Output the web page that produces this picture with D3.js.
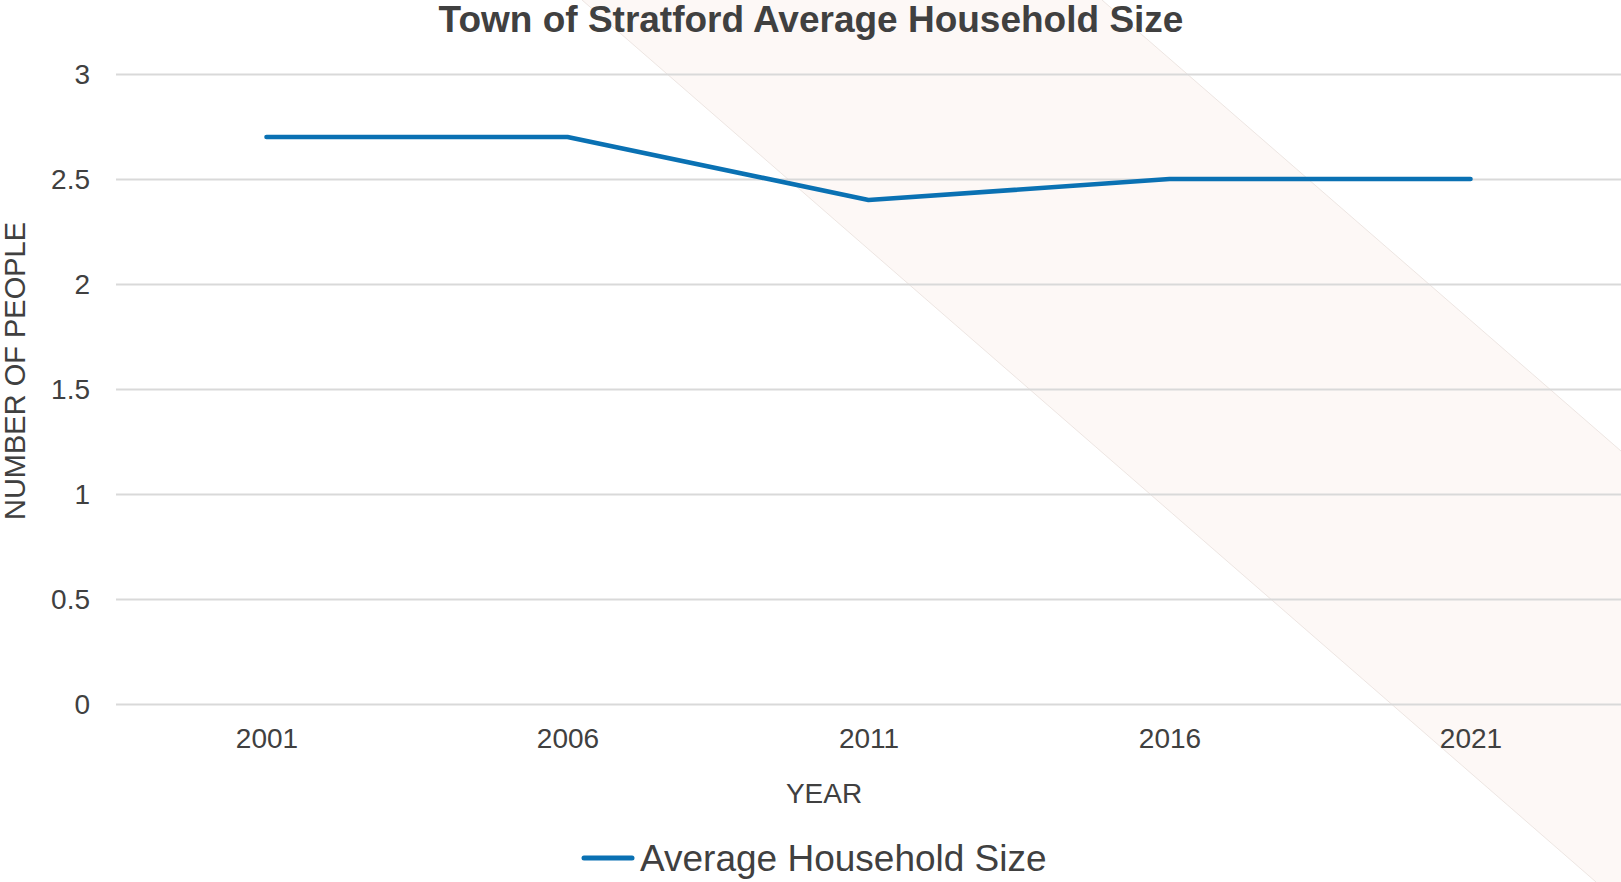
<!DOCTYPE html>
<html>
<head>
<meta charset="utf-8">
<script src="https://cdn.jsdelivr.net/npm/d3@7"></script>
<style>
  html, body { margin: 0; padding: 0; background: #ffffff; }
  svg { display: block; font-family: "Liberation Sans", Arial, sans-serif; }
</style>
</head>
<body>
<svg id="chart" width="1621" height="882"></svg>
<script>
const years = ["2001", "2006", "2011", "2016", "2021"];
const householdSize = [2.7, 2.7, 2.4, 2.5, 2.5];
const yTicks = [0, 0.5, 1, 1.5, 2, 2.5, 3];
const seriesName = "Average Household Size";
const chartTitle = "Town of Stratford Average Household Size";
const xTitle = "YEAR";
const yTitle = "NUMBER OF PEOPLE";

const W = 1621, H = 882;
const plot = { left: 116, right: 1621, top: 74, bottom: 704 };
const svg = d3.select("#chart");

// decorative diagonal band in the background
const band = [[582, 0], [1102, 0], [W, 451], [W, H], [1596, H]];
svg.append("path")
  .attr("d", "M" + band.map(p => p.join(",")).join("L") + "Z")
  .attr("fill", "#fdf8f6");
svg.append("line").attr("x1", 582).attr("y1", 0).attr("x2", 1596).attr("y2", H)
  .attr("stroke", "#e8dfdc").attr("stroke-width", 0.8);
svg.append("line").attr("x1", 1102).attr("y1", 0).attr("x2", W).attr("y2", 451)
  .attr("stroke", "#e8dfdc").attr("stroke-width", 0.8);

const x = d3.scalePoint().domain(years).range([plot.left, plot.right]).padding(0.5);
const y = d3.scaleLinear().domain([0, 3]).range([plot.bottom, plot.top]);

// gridlines
const yAxis = d3.axisLeft(y).tickValues(yTicks).tickSize(-(plot.right - plot.left))
  .tickPadding(26).tickFormat(d3.format("~g"));
const gy = svg.append("g").attr("transform", `translate(${plot.left},0)`).call(yAxis);
gy.select(".domain").remove();
gy.selectAll(".tick line").attr("stroke", "#d9d9d9").attr("stroke-width", 2);
gy.selectAll(".tick text").attr("fill", "#404040").style("font-size", "28px")
  .attr("dy", "0.35em");

// x axis labels
const xAxis = d3.axisBottom(x).tickSize(0).tickPadding(24);
const gx = svg.append("g").attr("transform", `translate(0,${plot.bottom})`).call(xAxis);
gx.select(".domain").remove();
gx.selectAll(".tick text").attr("fill", "#404040").style("font-size", "28px");

// line
const line = d3.line().x((d, i) => x(years[i])).y(d => y(d));
svg.append("path").datum(householdSize)
  .attr("d", line)
  .attr("fill", "none")
  .attr("stroke", "#0a71b3")
  .attr("stroke-width", 4.6)
  .attr("stroke-linejoin", "round")
  .attr("stroke-linecap", "round");

// titles
svg.append("text").attr("x", 811).attr("y", 32).attr("text-anchor", "middle")
  .attr("fill", "#404040").style("font-size", "37px").style("font-weight", "bold")
  .text(chartTitle);
svg.append("text").attr("x", 824).attr("y", 803).attr("text-anchor", "middle")
  .attr("fill", "#404040").style("font-size", "28px").text(xTitle);
svg.append("text").attr("transform", "translate(25,371) rotate(-90)")
  .attr("text-anchor", "middle").attr("fill", "#404040").style("font-size", "29px")
  .text(yTitle);

// legend
const lg = svg.append("g");
lg.append("line").attr("x1", 584).attr("x2", 632).attr("y1", 858).attr("y2", 858)
  .attr("stroke", "#0a71b3").attr("stroke-width", 5).attr("stroke-linecap", "round");
lg.append("text").attr("x", 640).attr("y", 871).attr("fill", "#404040")
  .style("font-size", "37px").text(seriesName);
</script>
</body>
</html>
